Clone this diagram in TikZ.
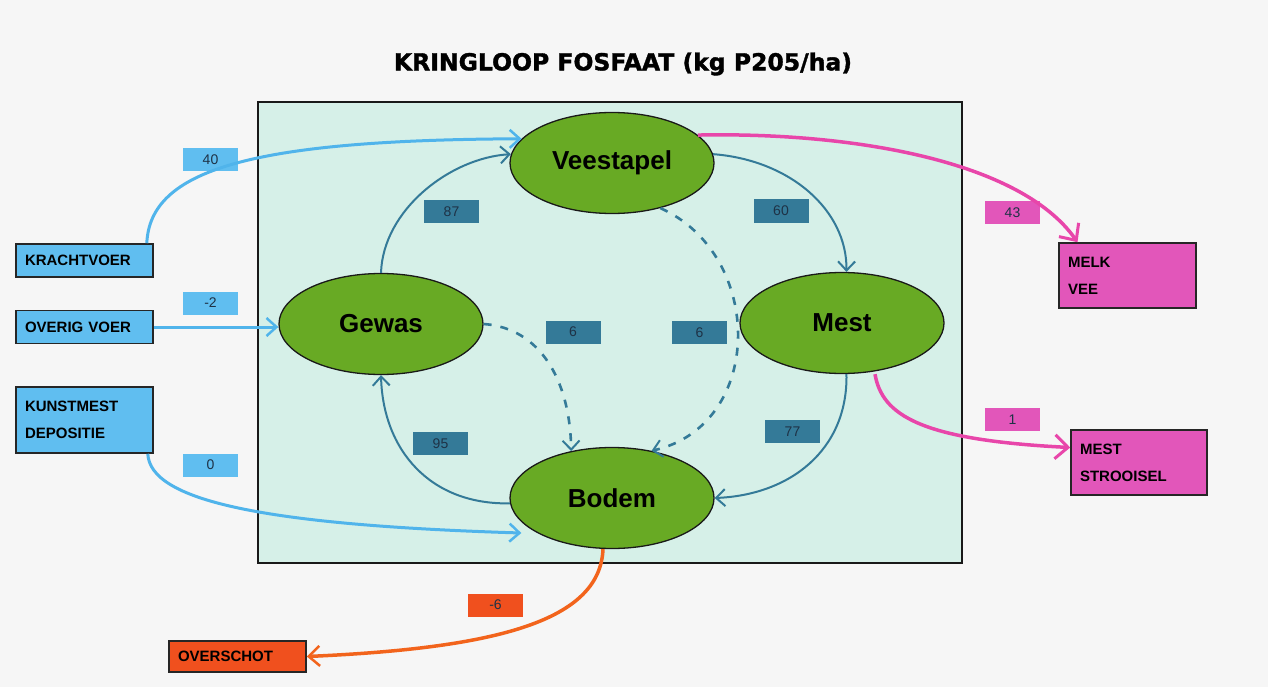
\documentclass[tikz,border=0pt]{standalone}
\usepackage{fontspec}
\setsansfont{Liberation Sans}
\newfontfamily\titlefont{DejaVu Sans}[BoldFeatures={FakeBold=1.5}]
\usetikzlibrary{shapes.geometric, arrows.meta, positioning}
\definecolor{paper}{RGB}{246,246,246}
\definecolor{panelgreen}{RGB}{214,240,232}
\definecolor{poolgreen}{RGB}{104,170,36}
\definecolor{inblue}{RGB}{96,190,240}
\definecolor{loopteal}{RGB}{52,122,152}
\definecolor{outpink}{RGB}{226,86,186}
\definecolor{lossred}{RGB}{240,80,30}
\definecolor{flowblue}{RGB}{80,180,235}
\definecolor{flowpink}{RGB}{232,70,170}
\definecolor{floworange}{RGB}{242,100,28}
\definecolor{numink}{RGB}{30,50,70}
\tikzset{pool/.style={ % the four pools of the cycle
ellipse, draw=black!90, line width=1.3pt,
fill=poolgreen, minimum width=204pt, minimum height=101pt,
inner sep=0pt, font=\sffamily\bfseries\fontsize{26}{26}\selectfont},
flowbox/.style={ % boxes for what comes in and goes out
draw=black!85, line width=1.6pt, fill=#1,
minimum height=33pt, inner xsep=9pt, inner ysep=0pt,
text width=119pt, align=left,
font=\sffamily\bfseries\fontsize{15}{27}\selectfont},
amount/.style={ % small labels with the amounts
fill=#1, minimum width=55pt, minimum height=23pt, inner sep=0pt,
text=numink, font=\sffamily\fontsize{14}{14}\selectfont},
loopflow/.style={ % flows inside the farm
draw=loopteal, line width=2pt,
-{Straight Barb[length=9pt, width=17pt, line width=2pt]}},
loopdash/.style={loopflow, dash pattern=on 8pt off 9pt, line width=2.6pt},
inflow/.style={draw=flowblue, line width=3pt,
-{Straight Barb[length=10pt, width=18pt, line width=2.5pt]}},
outflow/.style={draw=flowpink, line width=3.5pt,
-{Straight Barb[length=13pt, width=24pt, line width=3pt]}},
lossflow/.style={draw=floworange, line width=3.5pt,
-{Straight Barb[length=11pt, width=20pt, line width=2.5pt]}}}

\begin{document}
\begin{tikzpicture}[x=1pt, y=-1pt]

    \fill[paper] (0,0) rectangle (1268,687);
    \useasboundingbox (0,0) rectangle (1268,687);

    \node[font=\titlefont\bfseries\fontsize{23.5}{23.5}\selectfont] (title) at (623,64) {KRINGLOOP FOSFAAT (kg P205/ha)};
    \node[draw=black!90, line width=1.6pt, fill=panelgreen, minimum width=704pt, minimum height=461pt] (farm) at (610,332.5) {};

    \node[pool] (vee) at (612,163) {Veestapel};
    \node[pool] (gewas) at (381,324) {Gewas};
    \node[pool] (mest) at (842,323) {Mest};
    \node[pool] (bodem) at (612,498) {Bodem};

    \node[flowbox=inblue] (kracht) at (84.5,260.5) {KRACHTVOER};
    \node[flowbox=inblue] (overig) at (84.5,327) {OVERIG VOER};
    \node[flowbox=inblue, minimum height=66pt] (kunst) at (84.5,420) {KUNSTMEST\\DEPOSITIE};
    \node[flowbox=outpink, minimum height=65pt] (melk) at (1127.5,275.5) {MELK\\VEE};
    \node[flowbox=outpink, minimum height=65pt, text width=118pt] (strooi) at (1139,462.5) {MEST\\STROOISEL};
    \node[flowbox=lossred, minimum height=31pt] (over) at (237.5,656.5) {OVERSCHOT};

    \node[amount=inblue] (qkracht) at (210.5,160) {40};
    \node[amount=inblue] (qoverig) at (210.5,303) {-2};
    \node[amount=inblue] (qkunst) at (210.5,465) {0};
    \node[amount=loopteal] (qgewvee) at (451.5,211.5) {87};
    \node[amount=loopteal] (qveemest) at (781,211) {60};
    \node[amount=loopteal] (qgewbod) at (573,332) {6};
    \node[amount=loopteal] (qveebod) at (699.5,332.5) {6};
    \node[amount=loopteal] (qbodgew) at (440.5,443.5) {95};
    \node[amount=loopteal] (qmestbod) at (792.5,431.5) {77};
    \node[amount=outpink] (qmelk) at (1012.5,212.5) {43};
    \node[amount=outpink] (qstrooi) at (1012.5,419.5) {1};
    \node[amount=lossred] (qover) at (495.5,605) {-6};

    \draw[loopflow] (gewas.north) .. controls (383,210) and (450,158) .. (vee.175);
    \draw[loopflow] (vee.5) .. controls (790,160) and (847,210) .. (mest.85);
    \draw[loopflow] (mest.-85) .. controls (848,450) and (790,495) .. (bodem.east);
    \draw[loopflow] (bodem.183) .. controls (430,505) and (383,450) .. (gewas.south);
    \draw[loopdash] (gewas.east) .. controls (540,328) and (570,380) .. (bodem.131);
    \draw[loopdash] (vee.-43) .. controls (765,255) and (765,425) .. (bodem.50);

    \draw[inflow] ([xshift=-7pt]kracht.north east) .. controls (150,170) and (250,140) .. (vee.165);
    \draw[inflow] (overig.east) -- (overig.east -| gewas.west);
    \draw[inflow] ([xshift=-6pt]kunst.south east) .. controls (150,500) and (260,525) .. ([shift={(12pt,-35pt)}]bodem.west);

    \draw[outflow] (vee.18) .. controls (850,132) and (1020,160) .. ([xshift=-50pt]melk.north);
    \draw[outflow] ([xshift=33pt]mest.south) .. controls (882,415) and (920,440) .. ([yshift=15pt]strooi.west);
    \draw[lossflow] ([xshift=-9pt]bodem.south) .. controls (600,620) and (500,648) .. (over.east);

\end{tikzpicture}
\end{document}
